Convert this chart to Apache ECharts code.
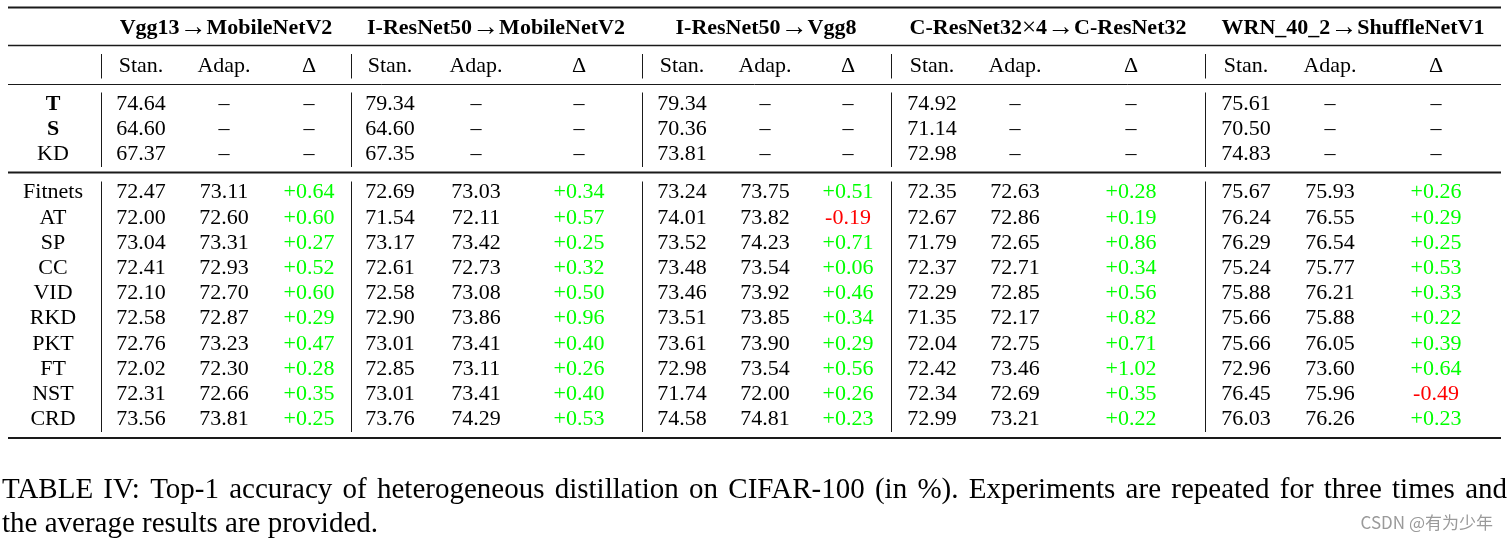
<!DOCTYPE html>
<html><head><meta charset="utf-8">
<script src="https://cdn.jsdelivr.net/npm/echarts@6/dist/echarts.min.js"></script>
<style>html,body{margin:0;padding:0;background:#fff}#c{width:1509px;height:543px}</style>
</head><body><div id="c"></div><script>
// ---------------- data ----------------
const groups = ['Vgg13\u2192MobileNetV2', 'I-ResNet50\u2192MobileNetV2', 'I-ResNet50\u2192Vgg8', 'C-ResNet32\u00d74\u2192C-ResNet32', 'WRN_40_2\u2192ShuffleNetV1'];
const subHeaders = ['Stan.', 'Adap.', '\u0394'];
const baseRows = ['T', 'S', 'KD'];
const baseStan = [
  [74.64, 64.60, 67.37],
  [79.34, 64.60, 67.35],
  [79.34, 70.36, 73.81],
  [74.92, 71.14, 72.98],
  [75.61, 70.50, 74.83]
];
const methods = ['Fitnets', 'AT', 'SP', 'CC', 'VID', 'RKD', 'PKT', 'FT', 'NST', 'CRD'];
const stanVals = [
  [72.47, 72.00, 73.04, 72.41, 72.10, 72.58, 72.76, 72.02, 72.31, 73.56],
  [72.69, 71.54, 73.17, 72.61, 72.58, 72.90, 73.01, 72.85, 73.01, 73.76],
  [73.24, 74.01, 73.52, 73.48, 73.46, 73.51, 73.61, 72.98, 71.74, 74.58],
  [72.35, 72.67, 71.79, 72.37, 72.29, 71.35, 72.04, 72.42, 72.34, 72.99],
  [75.67, 76.24, 76.29, 75.24, 75.88, 75.66, 75.66, 72.96, 76.45, 76.03]
];
const adapVals = [
  [73.11, 72.60, 73.31, 72.93, 72.70, 72.87, 73.23, 72.30, 72.66, 73.81],
  [73.03, 72.11, 73.42, 72.73, 73.08, 73.86, 73.41, 73.11, 73.41, 74.29],
  [73.75, 73.82, 74.23, 73.54, 73.92, 73.85, 73.90, 73.54, 72.00, 74.81],
  [72.63, 72.86, 72.65, 72.71, 72.85, 72.17, 72.75, 73.46, 72.69, 73.21],
  [75.93, 76.55, 76.54, 75.77, 76.21, 75.88, 76.05, 73.60, 75.96, 76.26]
];
const deltaVals = [
  [0.64, 0.60, 0.27, 0.52, 0.60, 0.29, 0.47, 0.28, 0.35, 0.25],
  [0.34, 0.57, 0.25, 0.32, 0.50, 0.96, 0.40, 0.26, 0.40, 0.53],
  [0.51, -0.19, 0.71, 0.06, 0.46, 0.34, 0.29, 0.56, 0.26, 0.23],
  [0.28, 0.19, 0.86, 0.34, 0.56, 0.82, 0.71, 1.02, 0.35, 0.22],
  [0.26, 0.29, 0.25, 0.53, 0.33, 0.22, 0.39, 0.64, -0.49, 0.23]
];
const captionLine1 = 'TABLE IV: Top-1 accuracy of heterogeneous distillation on CIFAR-100 (in %). Experiments are repeated for three times and';
const captionLine2 = 'the average results are provided.';
const watermark = 'CSDN @\u6709\u4e3a\u5c11\u5e74';

// ---------------- layout ----------------
const W = 1509, H = 543;
const FONT = '"Liberation Serif", "Times New Roman", serif';
const FS = 22;
const labelX = 53;
const colX = [[141, 224, 309], [390, 476, 579], [682, 765, 848], [932, 1015, 1131], [1246, 1330, 1436]];
const groupX = [226, 496, 766, 1048, 1353];
const barX = [101, 351, 642, 891, 1205];
const yHead1 = 28, yHead2 = 66.5;
const yBase0 = 104, baseStep = 25;
const yMeth0 = 192.7, methStep = 25.17;
const GREEN = '#00ff00', RED = '#ff0000', BLACK = '#000';

const cells = [];
function cell(x, y, text, opts) {
  cells.push(Object.assign({ x: x, y: y, text: text, color: BLACK, bold: false }, opts || {}));
}
groups.forEach((g, i) => cell(groupX[i], yHead1, g, { bold: true, rich: true }));
groups.forEach((g, i) => subHeaders.forEach((s, j) => cell(colX[i][j], yHead2, s)));
baseRows.forEach((r, k) => {
  const y = yBase0 + k * baseStep;
  cell(labelX, y, r, { bold: r !== 'KD' });
  groups.forEach((g, i) => {
    cell(colX[i][0], y, baseStan[i][k].toFixed(2));
    cell(colX[i][1], y, '\u2013');
    cell(colX[i][2], y, '\u2013');
  });
});
methods.forEach((m, k) => {
  const y = yMeth0 + k * methStep;
  cell(labelX, y, m);
  groups.forEach((g, i) => {
    cell(colX[i][0], y, stanVals[i][k].toFixed(2));
    cell(colX[i][1], y, adapVals[i][k].toFixed(2));
    const d = deltaVals[i][k];
    cell(colX[i][2], y, (d >= 0 ? '+' : '-') + Math.abs(d).toFixed(2), { color: d >= 0 ? GREEN : RED });
  });
});

// rules: [x1, y1, x2, y2, width]
const rules = [
  [8, 7.5, 1501, 7.5, 2],
  [8, 45.5, 1501, 45.5, 1.3],
  [8, 84.5, 1501, 84.5, 1],
  [8, 172.5, 1501, 172.5, 2],
  [8, 438, 1501, 438, 2]
];
const barSpans = [[54, 78.5], [92.5, 167], [181.5, 432]];
barX.forEach(x => barSpans.forEach(s => rules.push([x + 0.5, s[0], x + 0.5, s[1], 1])));

// caption layout (justified first line)
const ctx = document.createElement('canvas').getContext('2d');
const CAP_FS = 29;
ctx.font = CAP_FS + 'px ' + FONT;
const words = captionLine1.split(' ');
const widths = words.map(w => ctx.measureText(w).width);
const capL = 2, capR = 1507;
const gap = (capR - capL - widths.reduce((a, b) => a + b, 0)) / (words.length - 1);
const capGraphics = [];
let cx = capL;
words.forEach((w, i) => {
  capGraphics.push({ type: 'text', x: cx, y: 490, style: { text: w, font: CAP_FS + 'px ' + FONT, fill: '#000', align: 'left', verticalAlign: 'middle' }, silent: true });
  cx += widths[i] + gap;
});
capGraphics.push({ type: 'text', x: capL, y: 524, style: { text: captionLine2, font: CAP_FS + 'px ' + FONT, fill: '#000', align: 'left', verticalAlign: 'middle' }, silent: true });
capGraphics.push({ type: 'text', x: 1493, y: 523, style: { text: watermark, font: '17px "Noto Sans CJK SC", "Noto Sans", sans-serif', fill: '#9a9a9a', align: 'right', verticalAlign: 'middle' }, silent: true });

function headerRich(t) {
  return t.replace(/\u2192/g, '{a|\u2192}').replace(/\u00d7/g, '{m|\u00d7}');
}

const chart = echarts.init(document.getElementById('c'), null, { renderer: 'canvas' });
chart.setOption({
  animation: false,
  backgroundColor: '#fff',
  grid: { left: 0, right: 0, top: 0, bottom: 0 },
  xAxis: { type: 'value', min: 0, max: W, show: false },
  yAxis: { type: 'value', min: 0, max: H, inverse: true, show: false },
  graphic: capGraphics,
  series: [
    {
      type: 'custom',
      silent: true,
      data: rules.map(r => [r[0], r[1], r[2], r[3]]),
      renderItem: (params, api) => {
        const r = rules[params.dataIndex];
        const p1 = api.coord([r[0], r[1]]);
        const p2 = api.coord([r[2], r[3]]);
        return { type: 'line', shape: { x1: p1[0], y1: p1[1], x2: p2[0], y2: p2[1] }, style: { stroke: '#1a1a1a', lineWidth: r[4] } };
      }
    },
    {
      type: 'custom',
      silent: true,
      data: cells.map(c => [c.x, c.y]),
      renderItem: (params, api) => {
        const c = cells[params.dataIndex];
        const p = api.coord([c.x, c.y]);
        const font = (c.bold ? 'bold ' : '') + FS + 'px ' + FONT;
        const style = { text: c.rich ? headerRich(c.text) : c.text, fill: c.color, font: font, align: 'center', verticalAlign: 'middle' };
        if (c.rich) {
          style.rich = {
            a: { font: 'normal normal 27px "Liberation Serif"', fill: c.color },
            m: { font: 'normal normal 25px "Liberation Serif"', fill: c.color }
          };
        }
        return { type: 'text', x: p[0], y: p[1], style: style };
      }
    }
  ]
});
</script></body></html>
